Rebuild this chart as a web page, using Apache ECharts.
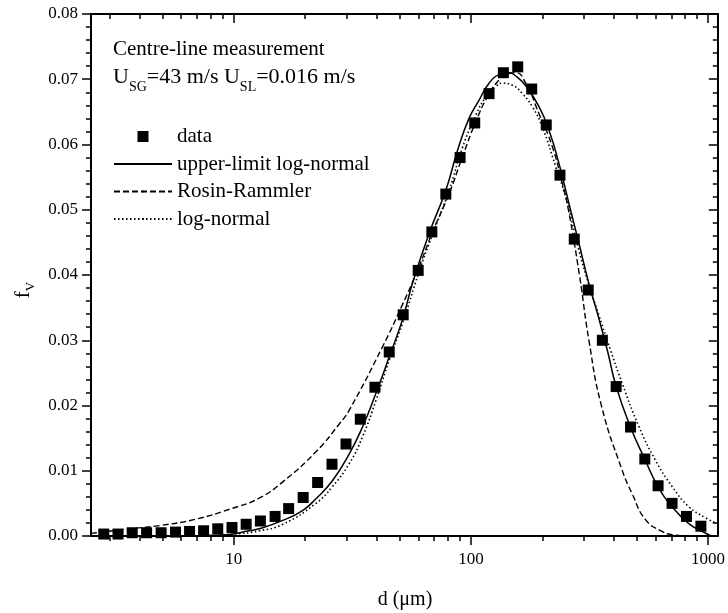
<!DOCTYPE html>
<html lang="en">
<head>
<meta charset="UTF-8">
<title>Centre-line drop size distribution</title>
<script src="https://cdn.jsdelivr.net/npm/echarts@6/dist/echarts.min.js"></script>
<style>
  html, body { margin: 0; padding: 0; background: #fff; }
  #main { width: 728px; height: 613px; }
</style>
</head>
<body>
<div id="main"></div>
<script>
// measured volume fractions (squares)
var dataD = [2.83, 3.25, 3.73, 4.29, 4.94, 5.68, 6.51, 7.46, 8.56, 9.83,
             11.28, 12.95, 14.94, 17.04, 19.62, 22.58, 25.96, 29.74, 34.17, 39.39,
             45.25, 51.83, 59.95, 68.45, 78.41, 90.06, 103.8, 119.3, 137.1, 157.6,
             180.5, 207.9, 237.5, 272.9, 312.5, 358.5, 409.9, 471.3, 541.4, 615.9,
             705.4, 811.3, 933.3];
var dataF = [0.0003, 0.0003, 0.0005, 0.0005, 0.0005, 0.0006, 0.0007, 0.0008, 0.0011, 0.0013,
             0.0018, 0.0023, 0.0030, 0.0042, 0.0059, 0.0082, 0.0110, 0.0141, 0.0179, 0.0228,
             0.0282, 0.0339, 0.0407, 0.0466, 0.0524, 0.0580, 0.0633, 0.0678, 0.0710, 0.0719,
             0.0685, 0.0630, 0.0553, 0.0455, 0.0377, 0.0300, 0.0229, 0.0167, 0.0118, 0.0077,
             0.0050, 0.0030, 0.0015];

// upper-limit log-normal (solid)
var ulD = [2.6, 5, 7, 9.3, 11.6, 12.8, 16.1, 19.5, 22.2, 26.1,
           30.7, 34.9, 39.8, 45.3, 51.5, 56.8, 66.7, 78.4, 87.7, 98.2,
           108.3, 119.3, 131.5, 144.9, 154.6, 170.3, 193.8, 213.5, 235.2, 259,
           285.4, 314.4, 341.2, 376, 410, 471, 541, 615, 705, 830,
           944, 1007, 1030];
var ulF = [0, 0.00001, 0.00005, 0.0002, 0.0008, 0.0011, 0.0024, 0.0039, 0.0057, 0.0085,
           0.0126, 0.0167, 0.0219, 0.0275, 0.0332, 0.0388, 0.0464, 0.0530, 0.0590, 0.0640,
           0.0668, 0.0694, 0.0707, 0.0710, 0.0705, 0.0690, 0.0658, 0.0622, 0.0571, 0.0510,
           0.0449, 0.0387, 0.0342, 0.0285, 0.0229, 0.0167, 0.0118, 0.0076, 0.0045, 0.0019,
           0.0007, 0.0002, 0];

// Rosin-Rammler (dashed)
var rrD = [2.5, 3.64, 4.87, 6.95, 9.59, 12.8, 16.1, 22.2, 27.9, 30.7,
           42.4, 51.5, 60.5, 68.9, 81.0, 92.1, 104.9, 119.3, 131.5, 140.3,
           154.6, 170.3, 193.8, 220.4, 242.7, 257.8, 286.9, 314.6, 355.1, 435.3,
           478.7, 545, 640, 705, 830];
var rrF = [0.0004, 0.0011, 0.0016, 0.0026, 0.0041, 0.0058, 0.0083, 0.0129, 0.0172, 0.0193,
           0.0290, 0.0355, 0.0413, 0.0466, 0.0525, 0.0581, 0.0635, 0.0678, 0.0699, 0.0707,
           0.0710, 0.0694, 0.0647, 0.0597, 0.0541, 0.0500, 0.0400, 0.0300, 0.0200, 0.0100,
           0.0065, 0.0025, 0.0007, 0.0002, 0];

// log-normal (dotted)
var lnD = [2.6, 7, 10, 12.8, 16.1, 22.2, 26.1, 30.7, 34.9, 39.8,
           45.3, 51.5, 60.5, 68.9, 81.0, 92.1, 104.9, 115.6, 127.3, 135.7,
           149.5, 164.8, 181.5, 200, 227.9, 250.9, 285.5, 314.6, 346.7, 388.2,
           434.5, 510.8, 600.5, 705.4, 829.1, 975, 1090];
var lnF = [0, 0.00005, 0.0003, 0.0008, 0.0018, 0.0050, 0.0076, 0.0111, 0.0152, 0.0208,
           0.0270, 0.0326, 0.0405, 0.0462, 0.0530, 0.0595, 0.0645, 0.0673, 0.0689, 0.0694,
           0.0691, 0.0678, 0.0658, 0.0627, 0.0566, 0.0520, 0.0438, 0.0385, 0.0338, 0.0285,
           0.0234, 0.0168, 0.0116, 0.0076, 0.0045, 0.0028, 0.0019];

var xMajor = [10, 100, 1000];
var xMinor = [3, 4, 5, 6, 7, 8, 9, 20, 30, 40, 50, 60, 70, 80, 90,
              200, 300, 400, 500, 600, 700, 800, 900];

var serif = 'Liberation Serif';
// tiny dot in the middle of an empty box, used only for the legend icons
var dot = 'path://M0,0M12,12M4.6,6a1.4,1.4 0 1,0 2.8,0a1.4,1.4 0 1,0 -2.8,0z';
// square centred in the 58x11 legend cell
var legendSquare = 'path://M0,0M58,11M23.5,0h11v11h-11z';

function pairs(xs, ys) {
    return xs.map(function (x, i) { return [x, ys[i]]; });
}

function xAxis(pos, ticks, len, inside, withLine, withLabels) {
    return {
        type: 'log', logBase: 10, min: 2.5, max: 1100, position: pos,
        axisLine: { show: withLine, lineStyle: { color: '#000', width: 2 } },
        axisTick: { show: true, customValues: ticks, length: len, inside: inside,
                    lineStyle: { color: '#000', width: 1.5 } },
        axisLabel: { show: withLabels, customValues: xMajor, margin: 15,
                     color: '#000', fontFamily: serif, fontSize: 17,
                     formatter: function (v) { return String(Math.round(v)); } },
        splitLine: { show: false }, minorTick: { show: false }
    };
}

function yAxis(pos, inside, withLabels) {
    return {
        type: 'value', min: 0, max: 0.08, interval: 0.01, position: pos,
        axisLine: { show: true, lineStyle: { color: '#000', width: 2 } },
        axisTick: { length: 9, inside: inside, lineStyle: { color: '#000', width: 1.5 } },
        minorTick: { show: true, splitNumber: 5, length: 5, lineStyle: { color: '#000', width: 1.5 } },
        axisLabel: { show: withLabels, margin: 13, color: '#000', fontFamily: serif, fontSize: 17,
                     formatter: function (v) { return v.toFixed(2); } },
        splitLine: { show: false }
    };
}

var chart = echarts.init(document.getElementById('main'));

var option = {
    animation: false,
    backgroundColor: '#fff',
    grid: { left: 91, right: 9, top: 14, bottom: 77 },
    xAxis: [
        xAxis('bottom', xMajor, 9, false, true, true),
        xAxis('bottom', xMinor, 5, false, false, false),
        xAxis('top', xMajor, 9, true, true, false),
        xAxis('top', xMinor, 5, true, false, false)
    ],
    yAxis: [
        yAxis('left', false, true),
        yAxis('right', true, false)
    ],
    legend: {
        orient: 'vertical', left: 108, top: 121, itemWidth: 58, itemHeight: 11, itemGap: 6.5,
        textStyle: { color: '#000', fontFamily: serif, fontSize: 21 },
        data: [{ name: 'data', icon: legendSquare },
               'upper-limit log-normal', 'Rosin-Rammler', 'log-normal']
    },
    graphic: [
        { type: 'text', left: 113, top: 39,
          style: { text: 'Centre-line measurement', fill: '#000', font: '21px "Liberation Serif"' } },
        { type: 'text', left: 113, top: 66,
          style: {
              text: '{m|U}{s|SG}{m|=43 m/s U}{s|SL}{m|=0.016 m/s}',
              rich: {
                  m: { fontFamily: serif, fontSize: 22, lineHeight: 22, verticalAlign: 'top', fill: '#000' },
                  s: { fontFamily: serif, fontSize: 14, lineHeight: 42, fill: '#000' }
              }
          } },
        { type: 'text', x: 405, y: 600,
          style: { text: 'd (\u03bcm)', fill: '#000', font: '20px "Liberation Serif"',
                   align: 'center', verticalAlign: 'middle' } },
        { type: 'text', x: 13, y: 290, rotation: Math.PI / 2,
          style: {
              text: '{m|f}{s|V}', align: 'center', verticalAlign: 'top',
              rich: {
                  m: { fontFamily: serif, fontSize: 21, lineHeight: 21, verticalAlign: 'top', fill: '#000' },
                  s: { fontFamily: serif, fontSize: 13, lineHeight: 36, fill: '#000' }
              }
          } }
    ],
    series: [
        { name: 'upper-limit log-normal', type: 'line', data: pairs(ulD, ulF),
          smooth: true, showSymbol: false, symbol: dot, color: '#000',
          lineStyle: { color: '#000', width: 1.5 }, z: 3 },
        { name: 'Rosin-Rammler', type: 'line', data: pairs(rrD, rrF),
          smooth: true, showSymbol: false, symbol: dot, color: '#000',
          lineStyle: { color: '#000', width: 1.4, type: [6, 3] }, z: 3 },
        { name: 'log-normal', type: 'line', data: pairs(lnD, lnF),
          smooth: true, showSymbol: false, symbol: dot, color: '#000',
          lineStyle: { color: '#000', width: 1.6, type: [1.5, 2.5] }, z: 3 },
        { name: 'data', type: 'scatter', data: pairs(dataD, dataF),
          symbol: 'rect', symbolSize: 11, z: 5,
          itemStyle: { color: '#000', opacity: 1 } }
    ]
};

chart.setOption(option);
</script>
</body>
</html>
